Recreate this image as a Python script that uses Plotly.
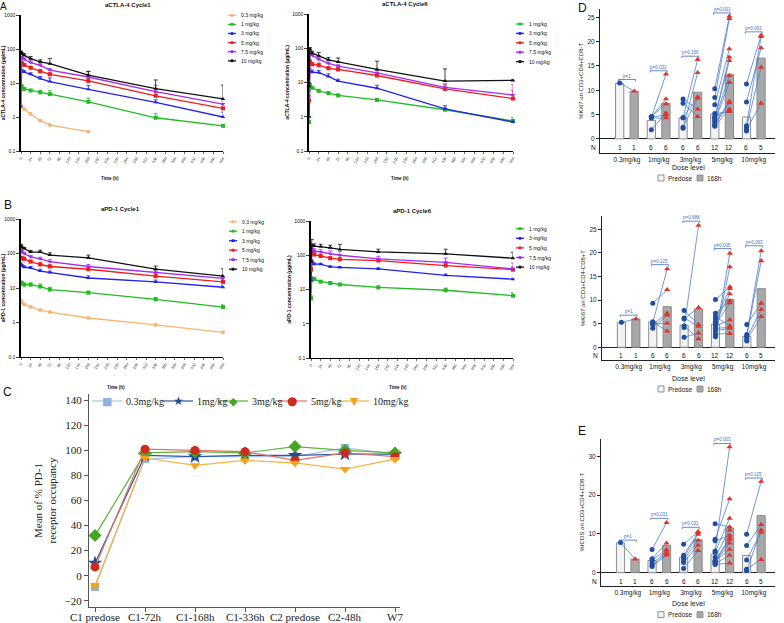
import plotly.graph_objects as go

W, H = 784, 623
ARIAL = "Liberation Sans, Arial, sans-serif"
SERIF = "Liberation Serif, Times New Roman, serif"
GLYPH = "DejaVu Sans, sans-serif"

def fx(px):
    return px / W

def fy(px):
    return 1 - px / H

# ---------------- Data: PK (A, B) ----------------
time_h = [0, 2, 8, 24, 48, 72, 168, 336, 504]
time_h_short = [0, 8, 24, 48, 72, 168]
xticks_h = list(range(0, 505, 24))
log_ticks = [0.1, 1, 10, 100, 1000]
log_tick_text = ["0.1", "1", "10", "100", "1000"]

actla_c1 = {
    "0.3 mg/kg": [2.25, 1.7, 1.23, 0.78, 0.58, 0.37],
    "1 mg/kg": [8.0, 7.5, 6.7, 6.0, 5.3, 4.7, 2.8, 0.95, 0.55],
    "3 mg/kg": [23, 22, 21, 18, 13.5, 11, 6.5, 2.7, 1.0],
    "5 mg/kg": [40, 38, 34, 28, 22, 18, 11.5, 4.2, 1.8],
    "7.5 mg/kg": [2.0, 57, 50, 40, 33, 24, 15, 5.6, 2.4],
    "10 mg/kg": [80, 72, 65, 52, 42, 37, 17, 6.8, 3.4],
}
actla_c1_err = {
    "1 mg/kg": [0, 1, 0.5, 0.5, 0.8, 1.2, 0.8, 0.3, 0.05],
    "3 mg/kg": [0, 3, 2, 2, 2, 3, 2, 0.5, 0.4],
    "5 mg/kg": [0, 3, 3, 3, 3, 2, 2, 1, 0.5],
    "7.5 mg/kg": [0, 5, 5, 5, 4, 3, 7, 3, 1],
    "10 mg/kg": [6, 8, 8, 8, 6, 16, 5, 5.5, 5.3],
}
actla_c6 = {
    "1 mg/kg": [0.7, 8.5, 7.0, 5.7, 4.9, 4.2, 3.1, 1.6, 0.75],
    "3 mg/kg": [1.0, 22, 20, 19.5, 15, 11, 6.8, 1.7, 0.7],
    "5 mg/kg": [3.0, 40, 34, 32, 26, 24, 16, 6.5, 3.4],
    "7.5 mg/kg": [4.0, 68, 62, 48, 36, 30, 19, 7.2, 4.3],
    "10 mg/kg": [7.8, 95, 72, 60, 46, 40, 24, 11, 11.5],
}
actla_c6_err = {
    "1 mg/kg": [0, 1, 0.5, 0.3, 0.3, 0.3, 0.3, 0.2, 0.2],
    "3 mg/kg": [0, 3, 3, 3, 3, 1.5, 1.5, 0.4, 0.1],
    "5 mg/kg": [2.5, 8, 5, 5, 3, 3, 2, 2, 2.5],
    "7.5 mg/kg": [2, 10, 10, 5, 4, 3, 3, 2, 4.5],
    "10 mg/kg": [2, 10, 10, 15, 8, 12, 18, 14, 0.5],
}
apd1_c1 = {
    "0.3 mg/kg": [4.2, 3.8, 3.3, 2.8, 2.3, 2.0, 1.35, 0.85, 0.52],
    "1 mg/kg": [14, 13.5, 12.5, 12.5, 11, 9, 7.3, 4.7, 2.8],
    "3 mg/kg": [48, 44, 40, 38, 31, 28, 19.5, 15, 10.5],
    "5 mg/kg": [75, 72, 70, 58, 48, 42, 35, 22, 15],
    "7.5 mg/kg": [120, 110, 100, 80, 70, 58, 42, 28, 19],
    "10 mg/kg": [165, 150, 140, 110, 110, 90, 75, 35, 22],
}
apd1_c1_err = {
    "0.3 mg/kg": [0.4, 0.3, 0.2, 0.15, 0.1, 0.1, 0.05, 0.05, 0.03],
    "1 mg/kg": [2, 2, 1.5, 1.5, 2, 1.5, 0.8, 0.6, 0.5],
    "3 mg/kg": [5, 4, 4, 4, 4, 3, 3, 2, 1.5],
    "5 mg/kg": [8, 8, 8, 6, 6, 5, 5, 4, 3],
    "7.5 mg/kg": [10, 10, 10, 8, 8, 8, 6, 5, 5],
    "10 mg/kg": [20, 15, 10, 12, 15, 15, 15, 8, 14],
}
apd1_c6 = {
    "1 mg/kg": [5.5, 21, 20, 17, 15.5, 14, 11.5, 9.5, 6.6],
    "3 mg/kg": [18, 65, 55, 55, 46, 44, 40, 26, 20],
    "5 mg/kg": [38, 115, 105, 95, 82, 76, 70, 50, 38],
    "7.5 mg/kg": [50, 150, 135, 125, 110, 100, 78, 62, 40],
    "10 mg/kg": [65, 200, 185, 180, 165, 148, 125, 110, 82],
}
apd1_c6_err = {
    "1 mg/kg": [1, 2, 2, 1, 1, 1, 1, 1.5, 1.5],
    "3 mg/kg": [3, 5, 5, 3, 3, 3, 3, 2, 1],
    "5 mg/kg": [5, 15, 15, 10, 8, 8, 8, 8, 8],
    "7.5 mg/kg": [10, 20, 20, 20, 25, 30, 15, 20, 20],
    "10 mg/kg": [10, 90, 30, 30, 30, 60, 25, 40, 40],
}
pk_colors = {"0.3 mg/kg": "#f9b470", "1 mg/kg": "#22bb22", "3 mg/kg": "#2222ee",
             "5 mg/kg": "#ee1c1c", "7.5 mg/kg": "#a22cf0", "10 mg/kg": "#111111"}
pk_symbols = {"0.3 mg/kg": "circle", "1 mg/kg": "square", "3 mg/kg": "triangle-up",
              "5 mg/kg": "square", "7.5 mg/kg": "triangle-down", "10 mg/kg": "triangle-up"}

# ---------------- Data: receptor occupancy (C) ----------------
ro_timepoints = ["C1 predose", "C1-72h", "C1-168h", "C1-336h", "C2 predose", "C2-48h", "W7"]
ro_03 = [-9, 93, 95, 95, 95, 102, 97]
ro_1 = [10, 96, 95, 96, 96, 97, 97]
ro_3 = [32, 98, 99, 98, 103, 100, 98]
ro_5 = [7, 101, 100, 99, 92, 98, 95]
ro_10 = [-8, 94, 88, 92, 90, 85, 93]
ro_ticks = [-20, 0, 20, 40, 60, 80, 100, 120, 140]

# ---------------- Data: biomarkers (D, E) ----------------
dose_groups = ["0.3mg/kg", "1mg/kg", "3mg/kg", "5mg/kg", "10mg/kg"]
n_pre = [1, 6, 6, 12, 6]
n_post = [1, 6, 6, 12, 5]

ki67_cd4_pre_bar = [11.4, 3.8, 4.3, 5.1, 4.5]
ki67_cd4_post_bar = [9.8, 7.3, 9.6, 13.3, 16.6]
ki67_cd4_pre = [[11.5], [4.4, 4.5, 4.6, 1.9, 4.5, 4.3], [8.2, 7.3, 4.3, 2.2, 4.4, 2.4],
                [10.3, 8.5, 7.0, 4.4, 4.2, 3.9, 3.5, 3.1, 2.8, 2.6, 4.6, 5.2],
                [11.3, 7.6, 2.7, 2.4, 1.9, 1.6]]
ki67_cd4_post = [[9.8], [13.3, 8.2, 7.2, 5.3, 4.9, 4.3], [6.1, 4.6, 16.3, 13.6, 8.6, 8.4],
                 [25.2, 24.7, 18.5, 16.8, 16.1, 13.0, 11.6, 7.7, 7.4, 6.1, 5.9, 5.6],
                 [21.3, 18.7, 21.0, 14.7, 7.3]]
ki67_cd4_p = ["p=1", "p=0.031", "p=0.156", "p=0.001", "p=0.063"]
ki67_cd4_p_y = [12.2, 14.0, 17.0, 25.9, 22.0]

ki67_cd8_pre_bar = [5.2, 5.4, 4.7, 4.9, 2.3]
ki67_cd8_post_bar = [6.0, 8.6, 8.1, 10.1, 12.4]
ki67_cd8_pre = [[5.3], [9.3, 5.2, 4.8, 4.0, 5.0, 5.4], [7.8, 6.2, 6.0, 4.2, 2.1, 4.5],
                [10.1, 7.2, 6.5, 6.0, 5.3, 4.8, 4.5, 4.0, 3.5, 2.8, 2.5, 2.2],
                [4.8, 2.7, 2.4, 2.0, 1.6, 1.3]]
ki67_cd8_post = [[6.0], [12.2, 16.6, 7.2, 6.8, 5.1, 3.4], [4.8, 4.4, 8.4, 25.8, 3.0, 1.8],
                 [12.8, 9.9, 4.5, 12.4, 11.3, 9.4, 5.8, 4.2, 4.0, 2.9, 17.0, 19.9],
                 [9.3, 20.4, 18.3, 8.0, 6.5]]
ki67_cd8_p = ["p=1", "p=0.125", "p=0.688", "p=0.005", "p=0.063"]
ki67_cd8_p_y = [6.8, 17.5, 26.7, 20.9, 21.5]

icos_pre_bar = [7.7, 3.1, 4.0, 4.8, 4.4]
icos_post_bar = [3.5, 7.0, 8.5, 11.5, 14.7]
icos_pre = [[7.8], [6.0, 3.6, 3.3, 2.5, 2.0, 1.6], [7.3, 4.5, 3.8, 3.3, 2.6, 1.1],
            [12.6, 8.6, 8.2, 5.6, 5.3, 3.1, 2.9, 2.7, 2.3, 2.1, 4.0, 3.0],
            [9.9, 7.0, 3.3, 0.9, 0.5, 0.7]]
icos_post = [[3.5], [12.9, 7.6, 5.9, 5.3, 4.9, 4.5], [10.6, 10.3, 9.9, 8.3, 7.1, 5.7],
             [11.8, 19.0, 9.6, 32.4, 14.0, 9.0, 8.6, 7.6, 4.5, 2.5, 11.0, 6.0],
             [23.5, 12.4, 10.4, 3.4, 11.0]]
icos_p = ["p=1", "p=0.031", "p=0.031", "p=0.003", "p=0.125"]
icos_p_y = [8.4, 14.0, 11.7, 33.3, 24.4]

# ---------------- Figure ----------------
fig = go.Figure()
layout = {}
annotations = []
shapes = []

def ax_key(kind, i):
    return kind + ("" if i == 1 else str(i))

def ref(kind, i):
    return kind + ("" if i == 1 else str(i))

def pk_panel(i, data, errs, dx, dy, title, title_px, ytitle, legend_px, xtitle_px):
    for dose, vals in data.items():
        t = time_h_short if len(vals) == len(time_h_short) else time_h
        e = errs.get(dose)
        ey = None
        if e is not None:
            ey = dict(type="data", array=e, arrayminus=[0] * len(e), symmetric=False,
                      width=2, thickness=0.8, color=pk_colors[dose])
        fig.add_trace(go.Scatter(
            x=t, y=vals, mode="lines+markers", name=dose, showlegend=False,
            line=dict(color=pk_colors[dose], width=1.3),
            marker=dict(symbol=pk_symbols[dose], size=4, color=pk_colors[dose]),
            error_y=ey, cliponaxis=False,
            xaxis=ref("x", i), yaxis=ref("y", i)))
    layout[ax_key("xaxis", i)] = dict(
        domain=[fx(dx[0]), fx(dx[1])], range=[0, 504], anchor=ref("y", i), automargin=False,
        tickvals=xticks_h, tickangle=-60, tickfont=dict(size=4, family=ARIAL, color="#333"),
        ticks="outside", ticklen=2, tickwidth=0.8, showline=True, linecolor="black",
        linewidth=1.2, showgrid=False, zeroline=False)
    layout[ax_key("yaxis", i)] = dict(
        domain=[fy(dy[1]), fy(dy[0])], type="log", range=[-1, 3], anchor=ref("x", i),
        automargin=False,
        tickvals=log_ticks, ticktext=log_tick_text, ticks="outside", ticklen=3,
        tickwidth=1, tickfont=dict(size=5, family=ARIAL, color="#111"),
        showline=True, linecolor="black", linewidth=1.6, showgrid=False, zeroline=False,
        title=dict(text="<b>" + ytitle + "</b>", font=dict(size=5, family=ARIAL, color="#111"),
                   standoff=2))
    annotations.append(dict(text="<b>" + title + "</b>", x=fx(title_px[0]), y=fy(title_px[1]),
                            xref="paper", yref="paper", showarrow=False,
                            xanchor="center", yanchor="middle",
                            font=dict(size=6, family=ARIAL, color="#111")))
    annotations.append(dict(text="<b>Time (h)</b>", x=fx(xtitle_px[0]), y=fy(xtitle_px[1]),
                            xref="paper", yref="paper", showarrow=False,
                            xanchor="center", yanchor="middle",
                            font=dict(size=4.5, family=ARIAL, color="#111")))
    lx, ly0, dyl = legend_px
    for k, dose in enumerate(data.keys()):
        yy = ly0 + k * dyl
        shapes.append(dict(type="line", xref="paper", yref="paper",
                           x0=fx(lx), x1=fx(lx + 8), y0=fy(yy), y1=fy(yy),
                           line=dict(color=pk_colors[dose], width=1.3)))
        shapes.append(dict(type="rect", xref="paper", yref="paper",
                           x0=fx(lx + 2.6), x1=fx(lx + 5.4), y0=fy(yy - 1.4), y1=fy(yy + 1.4),
                           fillcolor=pk_colors[dose], line=dict(width=0)))
        annotations.append(dict(text=dose, x=fx(lx + 11), y=fy(yy), xref="paper", yref="paper",
                                xanchor="left", yanchor="middle", showarrow=False,
                                font=dict(size=5, family=ARIAL, color="#111")))

pk_panel(1, actla_c1, actla_c1_err, (21, 223), (15, 151), "aCTLA-4 Cycle1", (128, 5),
         "aCTLA-4 concentration (μg/mL)", (228, 15.3, 9.1), (110, 178))
pk_panel(2, actla_c6, actla_c6_err, (309, 513), (14, 151), "aCTLA-4 Cycle6", (405, 4),
         "aCTLA-4 concentration (μg/mL)", (516, 24, 9.4), (400, 178))
pk_panel(3, apd1_c1, apd1_c1_err, (21, 223), (219, 357), "aPD-1 Cycle1", (120, 209),
         "aPD-1 concentration (μg/mL)", (229, 221.7, 9.5), (116, 387))
pk_panel(4, apd1_c6, apd1_c6_err, (311, 513), (221, 358), "aPD-1 Cycle6", (412, 211),
         "aPD-1 concentration (μg/mL)", (516, 228.7, 9.6), (398, 387))

# ---------------- Panel C ----------------
ro_series = [
    ("0.3mg/kg", ro_03, "#a9c6ec", "#8fb1df", "square", 8, "■", 11),
    ("1mg/kg", ro_1, "#2a5aa0", "#1d4c93", "star", 11, "★", 12),
    ("3mg/kg", ro_3, "#5cb33a", "#46a426", "diamond", 10, "◆", 11),
    ("5mg/kg", ro_5, "#e2726a", "#cf2a1f", "circle", 9, "●", 12),
    ("10mg/kg", ro_10, "#f7b340", "#f5a11b", "triangle-down", 9, "▼", 11),
]
for name, vals, lc, mc, sym, sz, glyph, gsz in ro_series:
    fig.add_trace(go.Scatter(
        x=ro_timepoints, y=vals, mode="lines+markers", name=name, showlegend=False,
        line=dict(color=lc, width=1.2), marker=dict(symbol=sym, size=sz, color=mc),
        cliponaxis=False, xaxis="x5", yaxis="y5"))
layout["xaxis5"] = dict(domain=[fx(89), fx(400)], anchor="y5", type="category",
                        range=[-0.12, 6.1], ticks="outside", ticklen=4, tickcolor="#555",
                        showticklabels=False, automargin=False,
                        showline=True, linecolor="#555", linewidth=1, showgrid=False,
                        zeroline=False)
layout["yaxis5"] = dict(domain=[fy(607), fy(394)], anchor="x5", range=[-25, 145],
                        automargin=False,
                        tickvals=ro_ticks, ticks="outside", ticklen=4, tickcolor="#555",
                        tickfont=dict(size=11, family=SERIF, color="#222"),
                        showline=True, linecolor="#555", linewidth=1, showgrid=False,
                        zeroline=False,
                        title=dict(text="Mean of % PD-1<br>receptor occupancy",
                                   font=dict(size=11, family=SERIF, color="#222"), standoff=5))
for k, lab in enumerate(ro_timepoints):
    annotations.append(dict(text=lab, x=lab, y=fy(617), xref="x5", yref="paper",
                            showarrow=False, xanchor="center", yanchor="middle",
                            font=dict(size=11, family=SERIF, color="#222")))
c_leg_x = [92, 163, 218, 277, 339]
c_leg_y = 401
for (name, vals, lc, mc, sym, sz, glyph, gsz), x0 in zip(ro_series, c_leg_x):
    shapes.append(dict(type="line", xref="paper", yref="paper", x0=fx(x0), x1=fx(x0 + 30),
                       y0=fy(c_leg_y), y1=fy(c_leg_y), line=dict(color=lc, width=1.2)))
    annotations.append(dict(text=glyph, x=fx(x0 + 15), y=fy(c_leg_y), xref="paper",
                            yref="paper", showarrow=False, xanchor="center", yanchor="middle",
                            font=dict(size=gsz, family=GLYPH, color=mc)))
    annotations.append(dict(text=name, x=fx(x0 + 32), y=fy(c_leg_y), xref="paper",
                            yref="paper", showarrow=False, xanchor="left", yanchor="middle",
                            font=dict(size=10, family=SERIF, color="#222")))

# ---------------- Panels D / E ----------------
def dose_panel(i, pre_bar, post_bar, pre_pts, post_pts, pvals, p_y, ytitle, yrange, ytickvals,
               dx, dy, label_px):
    xa, ya = ref("x", i), ref("y", i)
    gx = list(range(len(dose_groups)))
    xpre = [g - 0.23 for g in gx]
    xpost = [g + 0.23 for g in gx]
    fig.add_trace(go.Bar(x=xpre, y=pre_bar, width=0.26, showlegend=False,
                         marker=dict(color="#f3f3f3", line=dict(color="#8e8e8e", width=1)),
                         xaxis=xa, yaxis=ya))
    fig.add_trace(go.Bar(x=xpost, y=post_bar, width=0.26, showlegend=False,
                         marker=dict(color="#a8a8a8", line=dict(color="#8a8a8a", width=1)),
                         xaxis=xa, yaxis=ya))
    lx, ly, px_, py_, qx, qy = [], [], [], [], [], []
    for g in gx:
        for k, v in enumerate(pre_pts[g]):
            px_.append(xpre[g]); py_.append(v)
            if k < len(post_pts[g]):
                lx += [xpre[g], xpost[g], None]
                ly += [v, post_pts[g][k], None]
        for v in post_pts[g]:
            qx.append(xpost[g]); qy.append(v)
    fig.add_trace(go.Scatter(x=lx, y=ly, mode="lines", showlegend=False,
                             line=dict(color="#4f7fcf", width=0.8), xaxis=xa, yaxis=ya))
    fig.add_trace(go.Scatter(x=px_, y=py_, mode="markers", showlegend=False,
                             marker=dict(symbol="circle", size=5, color="#1f4f9e"),
                             cliponaxis=False, xaxis=xa, yaxis=ya))
    fig.add_trace(go.Scatter(x=qx, y=qy, mode="markers", showlegend=False,
                             marker=dict(symbol="triangle-up", size=5.5, color="#e3322a"),
                             cliponaxis=False, xaxis=xa, yaxis=ya))
    span = yrange[1] - yrange[0]
    n_y = yrange[0] * 0.64
    for g in gx:
        annotations.append(dict(text=str(n_pre[g]), x=xpre[g], y=n_y, xref=xa, yref=ya,
                                showarrow=False, xanchor="center", yanchor="middle",
                                font=dict(size=6.5, family=ARIAL, color="#111")))
        annotations.append(dict(text=str(n_post[g]), x=xpost[g], y=n_y, xref=xa, yref=ya,
                                showarrow=False, xanchor="center", yanchor="middle",
                                font=dict(size=6.5, family=ARIAL, color="#111")))
        d = span * 0.012
        x0, x1 = xpre[g] - 0.04, xpost[g] + 0.04
        shapes.append(dict(type="path", xref=xa, yref=ya,
                           path=f"M {x0},{p_y[g] - d} L {x0},{p_y[g]} L {x1},{p_y[g]} L {x1},{p_y[g] - d}",
                           line=dict(color="#3f6fc6", width=0.8)))
        annotations.append(dict(text=pvals[g], x=gx[g], y=p_y[g], xref=xa, yref=ya,
                                xanchor="center", yanchor="bottom", showarrow=False, yshift=-1,
                                font=dict(size=4.5, family=ARIAL, color="#3f6fc6")))
    annotations.append(dict(text="N", x=fx(dx[0] - 7), y=n_y, xref="paper", yref=ya,
                            xanchor="center", yanchor="middle",
                            showarrow=False, font=dict(size=6.5, family=ARIAL, color="#111")))
    layout[ax_key("xaxis", i)] = dict(
        domain=[fx(dx[0]), fx(dx[1])], anchor=ya, range=[-0.85, 4.67], automargin=False,
        tickvals=gx, ticktext=dose_groups, ticks="", showline=True, linecolor="#222",
        linewidth=1, showgrid=False, zeroline=False,
        tickfont=dict(size=6.5, family=ARIAL, color="#222"))
    layout[ax_key("yaxis", i)] = dict(
        domain=[fy(dy[1]), fy(dy[0])], anchor=xa, range=yrange, tickvals=ytickvals,
        automargin=False,
        ticks="outside", ticklen=3, tickcolor="#222", showline=True, linecolor="#222",
        linewidth=1, showgrid=False, zeroline=True, zerolinecolor="#222", zerolinewidth=1,
        tickfont=dict(size=6.5, family=ARIAL, color="#222"),
        title=dict(text=ytitle, font=dict(size=6, family=ARIAL, color="#222"), standoff=3))
    lbl_y = dy[1] + label_px
    annotations.append(dict(text="Dose level", x=fx(688), y=fy(lbl_y), xref="paper",
                            yref="paper", showarrow=False, xanchor="center", yanchor="middle",
                            font=dict(size=7, family=ARIAL, color="#222")))
    leg_y = lbl_y + 11
    shapes.append(dict(type="rect", xref="paper", yref="paper", x0=fx(658), x1=fx(664),
                       y0=fy(leg_y - 3), y1=fy(leg_y + 3), fillcolor="#f3f3f3",
                       line=dict(color="#777", width=0.8)))
    shapes.append(dict(type="rect", xref="paper", yref="paper", x0=fx(697), x1=fx(703),
                       y0=fy(leg_y - 3), y1=fy(leg_y + 3), fillcolor="#a8a8a8",
                       line=dict(color="#888", width=0.8)))
    annotations.append(dict(text="Predose", x=fx(666), y=fy(leg_y), xref="paper", yref="paper",
                            xanchor="left", yanchor="middle", showarrow=False,
                            font=dict(size=6.5, family=ARIAL, color="#222")))
    annotations.append(dict(text="168h", x=fx(705), y=fy(leg_y), xref="paper", yref="paper",
                            xanchor="left", yanchor="middle", showarrow=False,
                            font=dict(size=6.5, family=ARIAL, color="#222")))

dose_panel(6, ki67_cd4_pre_bar, ki67_cd4_post_bar, ki67_cd4_pre, ki67_cd4_post, ki67_cd4_p,
           ki67_cd4_p_y, "%Ki67 on CD3+CD4+CD8-T", [-2.9, 26.8], [0, 5, 10, 15, 20, 25],
           (600, 775), (8.5, 153), 14)
dose_panel(7, ki67_cd8_pre_bar, ki67_cd8_post_bar, ki67_cd8_pre, ki67_cd8_post, ki67_cd8_p,
           ki67_cd8_p_y, "%Ki67 on CD3+CD4-CD8+T", [-2.7, 27.8], [0, 5, 10, 15, 20, 25],
           (602, 775), (216, 360), 18)
dose_panel(8, icos_pre_bar, icos_post_bar, icos_pre, icos_post, icos_p, icos_p_y,
           "%ICOS on CD3+CD4+CD8-T", [-3.35, 34.5], [0, 10, 20, 30],
           (601, 775), (438.8, 585.7), 18)

letters = {"A": (3.6, 6.8, 10), "B": (8, 205, 12), "C": (8, 392, 12),
           "D": (582, 8, 12), "E": (582, 431, 12)}
for letter, (lx, ly, lsz) in letters.items():
    annotations.append(dict(text=letter, x=fx(lx), y=fy(ly), xref="paper", yref="paper",
                            xanchor="center", yanchor="middle",
                            showarrow=False, font=dict(size=lsz, family=ARIAL, color="#111")))

fig.update_layout(**layout)
fig.update_layout(
    width=W, height=H, margin=dict(l=0, r=0, t=0, b=0, autoexpand=False),
    paper_bgcolor="white", plot_bgcolor="white", barmode="overlay",
    annotations=annotations, shapes=shapes, hovermode=False,
    font=dict(family=ARIAL, color="#222"))

fig.write_html("out.html", config={"displayModeBar": False, "staticPlot": True},
               post_script="document.body.style.margin='0';document.body.style.overflow='hidden';")
